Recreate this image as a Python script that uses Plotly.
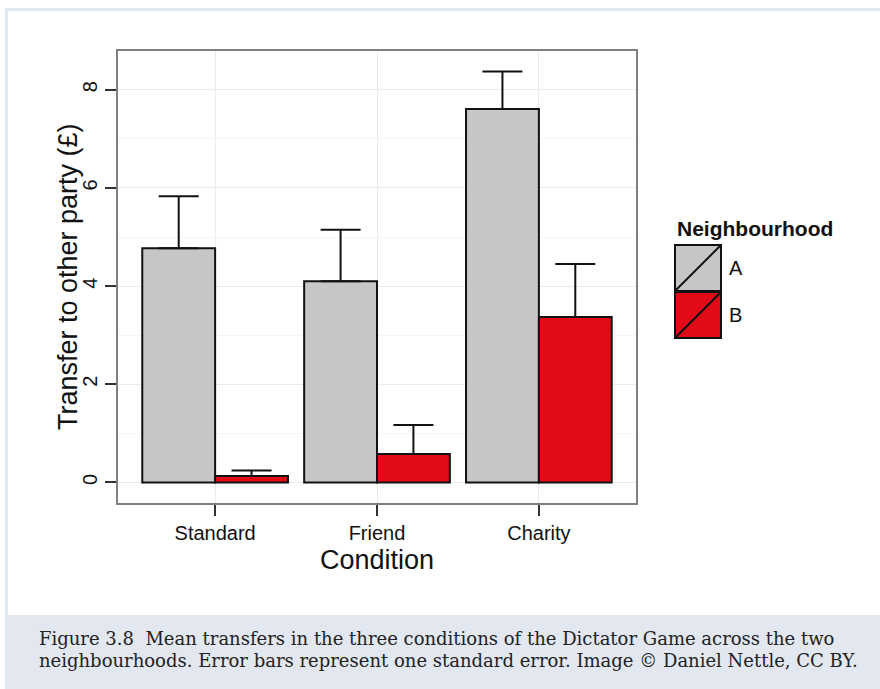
import plotly.graph_objects as go

conditions = ["Standard", "Friend", "Charity"]
mean_a = [4.77, 4.10, 7.61]
mean_b = [0.13, 0.58, 3.37]
se_a = [1.06, 1.05, 0.76]
se_b = [0.11, 0.59, 1.08]
groups = ["A", "B"]
colors = ["#c6c6c6", "#e20a16"]

W, H = 880, 689
FRAME = "#e3e7f0"
SANS = "Liberation Sans, Arial, sans-serif"
SERIF = "DejaVu Serif, serif"


def px(x):
    return x / W


def py(y):
    return 1 - y / H


fig = go.Figure()
for name, means, ses, col in zip(groups, [mean_a, mean_b], [se_a, se_b], colors):
    fig.add_trace(go.Bar(
        x=conditions, y=means, name=name,
        marker=dict(color=col, line=dict(color="#111111", width=2)),
        error_y=dict(type="data", array=ses, symmetric=False,
                     arrayminus=[0] * len(ses), color="#111111",
                     thickness=2, width=20),
        showlegend=False))

# figure frame and caption band
shapes = [
    dict(type="rect", x0=px(5), x1=1, y0=py(11), y1=py(8), fillcolor=FRAME, line=dict(width=0)),
    dict(type="rect", x0=px(5), x1=px(8), y0=py(615), y1=py(8), fillcolor=FRAME, line=dict(width=0)),
    dict(type="rect", x0=px(5), x1=1, y0=0, y1=py(615), fillcolor=FRAME, line=dict(width=0)),
]

# hand-made legend keys (large ggplot-style boxes with diagonal)
key_x0, key_x1 = 675, 721
key_tops = [245, 292]
key_h = 46
for top, col in zip(key_tops, colors):
    shapes.append(dict(type="rect", x0=px(key_x0), x1=px(key_x1), y0=py(top + key_h), y1=py(top),
                       fillcolor=col, line=dict(color="#111111", width=2)))
    shapes.append(dict(type="line", x0=px(key_x0), x1=px(key_x1), y0=py(top + key_h), y1=py(top),
                       line=dict(color="#111111", width=2)))
for s in shapes:
    s.update(xref="paper", yref="paper")
    fig.add_shape(s)

annotations = [
    dict(x=px(675), y=py(228), text="<b>Neighbourhood</b>", xanchor="left", yanchor="middle",
         font=dict(family=SANS, size=21, color="#111111")),
    dict(x=px(377), y=py(560), text="Condition", xanchor="center", yanchor="middle",
         font=dict(family=SANS, size=27, color="#111111")),
    dict(x=px(68), y=py(277), text="Transfer to other party (£)", textangle=-90,
         xanchor="center", yanchor="middle",
         font=dict(family=SANS, size=27, color="#111111")),
    dict(x=px(37), y=py(638.5), text="Figure 3.8  Mean transfers in the three conditions of the Dictator Game across the two",
         xanchor="left", yanchor="middle", font=dict(family=SERIF, size=18, color="#222222")),
    dict(x=px(37), y=py(660.5), text="neighbourhoods. Error bars represent one standard error. Image © Daniel Nettle, CC BY.",
         xanchor="left", yanchor="middle", font=dict(family=SERIF, size=18, color="#222222")),
]
for name, top in zip(groups, key_tops):
    annotations.append(dict(x=px(727), y=py(top + key_h / 2), text=name, xanchor="left", yanchor="middle",
                            font=dict(family=SANS, size=20, color="#111111")))
for a in annotations:
    a.update(xref="paper", yref="paper", showarrow=False)
    fig.add_annotation(a)

fig.update_layout(
    width=W, height=H,
    margin=dict(l=0, r=0, t=0, b=0),
    paper_bgcolor="white", plot_bgcolor="white",
    barmode="group", bargap=0.1, bargroupgap=0,
    font=dict(family=SANS, color="#111111"),
    xaxis=dict(domain=[px(118), px(636)], range=[-0.6, 2.6],
               showgrid=True, gridcolor="#ebebeb", gridwidth=1,
               showline=True, linecolor="#7f7f7f", linewidth=1.5, mirror=True,
               ticks="outside", ticklen=11, tickwidth=2, tickcolor="#333333",
               tickfont=dict(size=20, color="#111111"), zeroline=False),
    yaxis=dict(domain=[py(503), py(51)], range=[-0.42, 8.79],
               tickvals=[0, 2, 4, 6, 8], tickangle=-90,
               showgrid=True, gridcolor="#ebebeb", gridwidth=1,
               minor=dict(dtick=1, showgrid=True, gridcolor="#f5f5f5", gridwidth=1),
               showline=True, linecolor="#7f7f7f", linewidth=1.5, mirror=True,
               ticks="outside", ticklen=11, tickwidth=2, tickcolor="#333333",
               tickfont=dict(size=20, color="#111111"), zeroline=False),
)

fig.write_html("out.html", config={"displayModeBar": False},
               post_script="document.body.style.margin='0';")
